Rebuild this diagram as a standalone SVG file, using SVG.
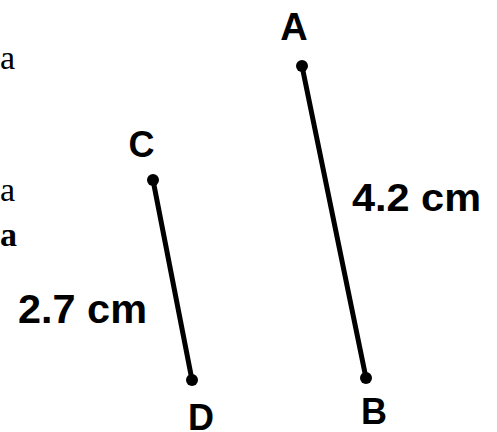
<svg xmlns="http://www.w3.org/2000/svg" width="497" height="432" viewBox="0 0 497 432">
<style>
.seg{stroke:#000;stroke-width:5;stroke-linecap:round;fill:none}
.pt{fill:#000}
.lbl{font-family:"Liberation Sans",Arial,sans-serif;font-weight:bold;fill:#000}
.cut{font-family:"Liberation Serif","Times New Roman",serif;font-size:34px;fill:#000}
</style>
<rect width="497" height="432" fill="#fff"/>
<g id="cropped-text">
<text class="cut" x="0" y="69">a</text>
<text class="cut" x="0" y="201">a</text>
<text class="cut" x="0" y="246" font-weight="bold">a</text>
</g>
<g id="connectors">
<line id="AB" class="seg" x1="302" y1="66" x2="366" y2="378"/>
<line id="CD" class="seg" x1="153" y1="180" x2="192" y2="380"/>
</g>
<g id="A"><circle class="pt" cx="302" cy="66" r="6"/><text class="lbl" x="294" y="40" font-size="38" text-anchor="middle">A</text></g>
<g id="B"><circle class="pt" cx="366" cy="378" r="6"/><text class="lbl" x="374" y="424" font-size="36" text-anchor="middle">B</text></g>
<g id="C"><circle class="pt" cx="153" cy="180" r="6"/><text class="lbl" x="141.5" y="157" font-size="36" text-anchor="middle">C</text></g>
<g id="D"><circle class="pt" cx="192" cy="380" r="6"/><text class="lbl" x="201" y="430" font-size="36" text-anchor="middle">D</text></g>
<text id="lenAB" class="lbl" x="352" y="211" font-size="38" textLength="129" lengthAdjust="spacingAndGlyphs">4.2 cm</text>
<text id="lenCD" class="lbl" x="18" y="323" font-size="41" textLength="129" lengthAdjust="spacingAndGlyphs">2.7 cm</text>
</svg>
